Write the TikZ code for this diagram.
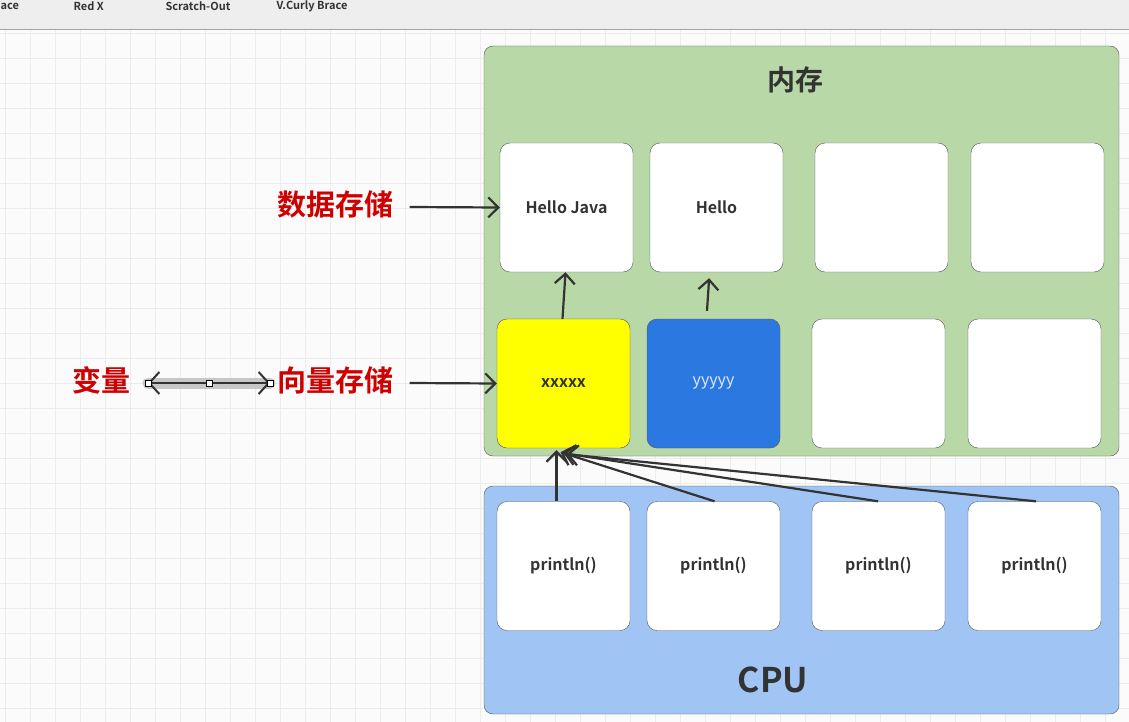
\documentclass[tikz,border=0pt]{standalone}
\usepackage{fontspec}
\setmainfont{Noto Sans CJK SC}[BoldFont={Noto Sans CJK SC Bold}]
\usetikzlibrary{arrows.meta}

\definecolor{memgreen}{RGB}{184,216,168}
\definecolor{cpublue}{RGB}{160,197,245}
\definecolor{varblue}{RGB}{42,120,224}
\definecolor{varyellow}{RGB}{255,255,0}
\definecolor{vartext}{RGB}{220,232,252}
\definecolor{tagred}{RGB}{206,0,0}
\definecolor{textgray}{RGB}{51,51,51}
\definecolor{linegray}{RGB}{85,85,85}
\definecolor{gridgray}{RGB}{236,236,236}
\definecolor{pagegray}{RGB}{251,251,251}
\definecolor{bargray}{RGB}{238,238,238}

\tikzset{
  panel/.style={draw=linegray, rounded corners=9pt, inner sep=0pt},
  cell/.style={draw=linegray, fill=white, rounded corners=10pt, inner sep=0pt,
    minimum width=133pt, minimum height=129pt, text=textgray,
    font=\bfseries\fontsize{16}{18}\selectfont},
  tag/.style={text=tagred, font=\bfseries\fontsize{29}{32}\selectfont},
  link/.style={draw=textgray, line width=2.2pt, -{Straight Barb[length=10pt,width=20pt]}},
  handle/.style={draw=black, fill=white, line width=0.8pt, minimum size=6pt, inner sep=0pt},
  bartext/.style={text=textgray, font=\bfseries\fontsize{11}{12}\selectfont, anchor=west}
}

\begin{document}
\begin{tikzpicture}[x=1pt, y=-1pt]
\useasboundingbox (0,0) rectangle (1129,722);

% background
\fill[pagegray] (0,0) rectangle (1129,722);
\foreach \gx in {5,30,...,1129} \draw[gridgray] (\gx,30) -- (\gx,722);
\foreach \gy in {33,58,...,722} \draw[gridgray] (0,\gy) -- (1129,\gy);
\fill[bargray] (0,0) rectangle (1129,29);
\draw[gridgray!70!black] (0,29.5) -- (1129,29.5);
\node[bartext] (tbbrace)   at (-3,6.5)  {ace};
\node[bartext] (tbredx)    at (70,6.5)  {Red X};
\node[bartext] (tbscratch) at (162,6.5) {Scratch-Out};
\node[bartext] (tbcurly)   at (273,6.5) {V.Curly Brace};

% panels
\node[panel, fill=memgreen, minimum width=635pt, minimum height=410pt] (mem) at (801.5,251) {};
\node[panel, fill=cpublue,  minimum width=635pt, minimum height=228pt] (cpu) at (801.5,600) {};
\node[text=textgray, font=\bfseries\fontsize{28}{30}\selectfont] (memtitle) at (795,80)  {内存};
\node[text=textgray, font=\bfseries\fontsize{34}{36}\selectfont] (cputitle) at (773,680) {CPU};

% memory cells
\node[cell] (hj)  at (566.5,207.5) {Hello Java};
\node[cell] (he)  at (716.5,207.5) {Hello};
\node[cell] (m3)  at (881.5,207.5) {};
\node[cell] (m4)  at (1037.5,207.5) {};
\node[cell, fill=varyellow, text=black!80] (xv) at (563.5,383.5) {xxxxx};
\node[cell, fill=varblue, text=vartext] (yv) at (713.5,383.5) {\mdseries yyyyy};
\node[cell] (m7)  at (878.5,383.5) {};
\node[cell] (m8)  at (1034.5,383.5) {};

% cpu cells
\node[cell] (p1) at (563.5,566) {println()};
\node[cell] (p2) at (713.5,566) {println()};
\node[cell] (p3) at (878.5,566) {println()};
\node[cell] (p4) at (1034.5,566) {println()};

% labels
\node[tag] (data) at (335,204) {数据存储};
\node[tag] (vars) at (335,380) {向量存储};
\node[tag] (bl)   at (101,380) {变量};

\draw[link] (data.east) ++(13,3) -- (hj.west);
\draw[link] (vars.east) ++(13,3) -- (xv.west);

\draw[link] ([xshift=-1pt]xv.north) -- ([xshift=-1pt]hj.south);
\draw[link, shorten <=8pt, shorten >=6pt] ([xshift=-7pt]yv.north) -- ([xshift=-7pt]he.south);

\draw[link] ([xshift=-7pt]p1.north) -- ([xshift=-7pt, yshift=-2pt]xv.south);
\draw[link] ([xshift=1pt]p2.north)  -- ([xshift=-3pt, yshift=-4pt]xv.south);
\draw[link] ([xshift=-0.5pt]p3.north) -- ([xshift=0pt, yshift=-5pt]xv.south);
\draw[link] ([xshift=1.5pt]p4.north) -- ([xshift=3pt, yshift=-6pt]xv.south);

% selected double arrow
\coordinate (va) at (148,383);
\coordinate (vb) at (270,383);
\draw[black!22, line width=11pt, line cap=round] (va) -- (vb);
\draw[draw=textgray, line width=2pt, {Straight Barb[length=10pt,width=22pt]}-{Straight Barb[length=10pt,width=22pt]}] (va) -- (vb);
\node[handle] (h1) at (va) {};
\node[handle] (h2) at (209,383) {};
\node[handle] (h3) at (vb) {};

\end{tikzpicture}
\end{document}
